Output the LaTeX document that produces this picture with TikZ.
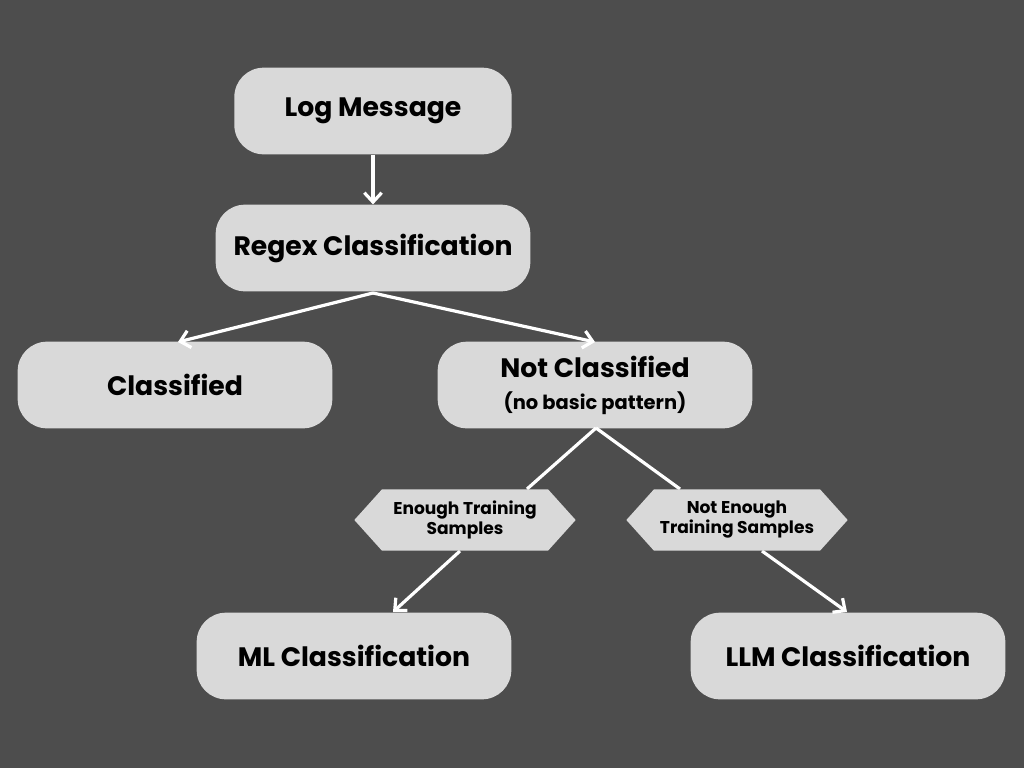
\documentclass[tikz,border=0pt]{standalone}
\usepackage{fontspec}
\setmainfont{Poppins}
\usetikzlibrary{shapes.symbols,arrows.meta}
\definecolor{bgc}{HTML}{4D4D4D}
\definecolor{boxc}{HTML}{D9D9D9}
\begin{document}
\begin{tikzpicture}[x=0.75pt,y=-0.75pt,
  box/.style={draw=none,fill=boxc,rounded corners=22pt,minimum width=236pt,minimum height=65pt,inner sep=0pt,align=center,font=\bfseries\fontsize{20}{23}\selectfont},
  hexa/.style={draw=none,fill=boxc,signal,signal to=east and west,signal pointer angle=96,minimum width=166pt,minimum height=46pt,inner sep=0pt,align=center,font=\bfseries\fontsize{12.8}{15}\selectfont},
  conn/.style={draw=white,line width=2.4pt},
  arr/.style={conn,-{Straight Barb[length=7pt,width=13pt,line width=2.4pt]}}]
\fill[bgc] (0,0) rectangle (1024,768);
\useasboundingbox (0,0) rectangle (1024,768);
\node[box,minimum width=208pt] (log) at (373,111) {Log Message};
\node[box] (regex) at (373,248) {Regex Classification};
\node[box] (cls) at (175,385) {Classified};
\node[box] (ncls) at (595,385) {Not Classified\\[1pt]{\fontsize{14.6}{17}\selectfont(no basic pattern)}};
\node[box] (ml) at (354,656) {ML Classification};
\node[box] (llm) at (848,656) {LLM Classification};
\coordinate (rb) at (373,293);
\coordinate (nb) at (596,428);
\draw[arr] (log.south) -- (regex.north);
\draw[arr] (rb) -- (178,342);
\draw[arr] (rb) -- (595,342);
\draw[conn] (nb) -- (527,489);
\draw[conn] (nb) -- (680,489);
\draw[arr] (460,551) -- (393,612);
\draw[arr] (762,551) -- (847,612);
\node[hexa] (enough) at (465,520) {Enough Training\\Samples};
\node[hexa] (notenough) at (737,520) {Not Enough\\Training Samples};
\end{tikzpicture}
\end{document}
